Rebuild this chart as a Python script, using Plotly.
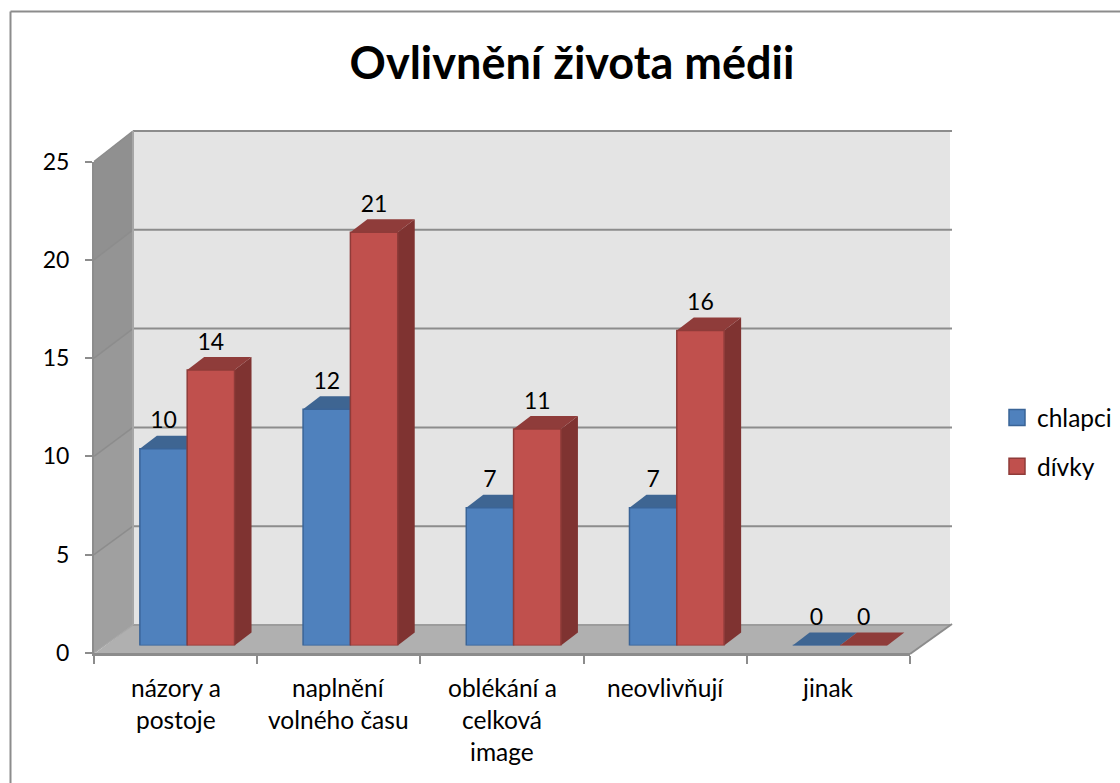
import plotly.graph_objects as go

title = "Ovlivnění života médii"
categories = ["názory a<br>postoje", "naplnění<br>volného času", "oblékání a<br>celková<br>image", "neovlivňují", "jinak"]
chlapci = [10, 12, 7, 7, 0]
divky = [14, 21, 11, 16, 0]
y_ticks = [0, 5, 10, 15, 20, 25]

W, H = 1120, 783
FONT = "Lato"
TXT = "#000000"
GRID = "#8C8C8C"
BLUE, BLUE_TOP, BLUE_SIDE, BLUE_LINE = "#4F81BD", "#3E6592", "#385D8A", "#3A6497"
RED, RED_TOP, RED_SIDE, RED_LINE = "#C0504D", "#8F3C3A", "#7F3331", "#8F3B39"

def fx(p): return p / W
def fy(p): return 1 - p / H

# plot geometry in pixels
FRONT_L, FRONT_R, FRONT_0, FRONT_25 = 94, 910, 653, 161.5
BACK_L, BACK_R, BACK_0, BACK_25 = 133, 950, 625, 131
BAR_L, BAR_R, BAR_0, BAR_25 = 105.6, 921.6, 645.5, 153.5
BAR_GAP = 0.42
BW = (1 - BAR_GAP) / 2
DX = 17 / ((BAR_R - BAR_L) / 5)
DY = 13 / ((BAR_0 - BAR_25) / 25)
LABEL_OFF = 26 / ((BAR_0 - BAR_25) / 25)

def poly(pts, color, xref="paper", yref="paper", lw=0):
    path = "M" + " L".join(f"{x},{y}" for x, y in pts) + " Z"
    return dict(type="path", path=path, xref=xref, yref=yref, fillcolor=color,
                line=dict(color=color, width=lw), layer="below")

def px_poly(pts, color, lw=0):
    return poly([(fx(x), fy(y)) for x, y in pts], color, lw=lw)

def line(x0, y0, x1, y1, color=GRID, width=2):
    return dict(type="line", xref="paper", yref="paper", x0=fx(x0), y0=fy(y0), x1=fx(x1), y1=fy(y1),
                line=dict(color=color, width=width), layer="below")

shapes = []
# chart frame
shapes += [line(10.5, 11.5, 1120, 11.5), line(10.5, 11.5, 10.5, 783)]
# back wall, floor
shapes.append(px_poly([(BACK_L, BACK_25), (BACK_R, BACK_25), (BACK_R, BACK_0), (BACK_L, BACK_0)], "#E4E4E4"))
shapes.append(px_poly([(FRONT_L, FRONT_0 + 1), (FRONT_R, FRONT_0 + 1), (BACK_R, BACK_0), (BACK_L, BACK_0)], "#B0B0B0"))
# side wall, banded from lighter (bottom) to darker (top)
side_cols = ["#A0A0A0", "#9C9C9C", "#989898", "#949494", "#909090"]
for i in range(len(y_ticks) - 1):
    a, b = y_ticks[i] / 25, y_ticks[i + 1] / 25
    f0, f1 = FRONT_0 + (FRONT_25 - FRONT_0) * a, FRONT_0 + (FRONT_25 - FRONT_0) * b
    b0, b1 = BACK_0 + (BACK_25 - BACK_0) * a, BACK_0 + (BACK_25 - BACK_0) * b
    shapes.append(px_poly([(FRONT_L, f0), (FRONT_L, f1), (BACK_L, b1), (BACK_L, b0)], side_cols[i]))
# grid lines
for v in y_ticks:
    a = v / 25
    f = FRONT_0 + (FRONT_25 - FRONT_0) * a
    b = BACK_0 + (BACK_25 - BACK_0) * a
    shapes.append(line(FRONT_L, f, BACK_L, b, "#A6A6A6" if v == 0 else GRID, 1.5))
    if v > 0:
        shapes.append(line(BACK_L, b, BACK_R + 2, b))
shapes.append(line(BACK_L, BACK_0, BACK_R, BACK_0, "#9C9C9C", 2))
shapes.append(line(BACK_L, BACK_25, BACK_L, BACK_0, "#A6A6A6", 2))
shapes.append(line(FRONT_R, FRONT_0 + 1, BACK_R + 2, BACK_0 - 1, "#8C8C8C", 2))

# depth faces of the columns, from the values
for values, off, top, side in [(chlapci, -BW, BLUE_TOP, BLUE_SIDE), (divky, 0, RED_TOP, RED_SIDE)]:
    for i, v in enumerate(values):
        xl, xr = i + off, i + off + BW
        if v > 0:
            shapes.append(poly([(xr, 0), (xr, v), (xr + DX, v + DY), (xr + DX, DY)], side, "x2", "y2"))
        shapes.append(poly([(xl, v), (xr, v), (xr + DX, v + DY), (xl + DX, v + DY)], top, "x2", "y2"))

fig = go.Figure()
xs = list(range(len(categories)))
fig.add_trace(go.Bar(x=xs, y=chlapci, name="chlapci", xaxis="x2", yaxis="y2", showlegend=False,
                     marker=dict(color=BLUE, line=dict(color=BLUE_LINE, width=1.5))))
fig.add_trace(go.Bar(x=xs, y=divky, name="dívky", xaxis="x2", yaxis="y2", showlegend=False,
                     marker=dict(color=RED, line=dict(color=RED_LINE, width=1.5))))
for values, off in [(chlapci, -BW / 2), (divky, BW / 2)]:
    fig.add_trace(go.Scatter(x=[i + off for i in xs], y=[v + LABEL_OFF for v in values],
                             text=[str(v) for v in values], mode="text", xaxis="x2", yaxis="y2",
                             textposition="middle center", showlegend=False, hoverinfo="skip",
                             textfont=dict(family=FONT, size=23, color=TXT)))
# legend keys
for name, col, edge, grp in [("chlapci", BLUE, BLUE_LINE, "a"), ("dívky", RED, RED_LINE, "b")]:
    fig.add_trace(go.Scatter(x=[None], y=[None], name=name, mode="markers", legendgroup=grp,
                             marker=dict(symbol="square", size=16, color=col, line=dict(color=edge, width=1.5))))

# category labels, one annotation per line
annotations = []
for i, cat in enumerate(categories):
    for j, ln in enumerate(cat.split("<br>")):
        annotations.append(dict(text=ln, x=i, xref="x", y=fy(687 + 32 * j), yref="paper", yanchor="middle",
                                xanchor="center", showarrow=False, font=dict(family=FONT, size=24.5, color=TXT)))

fig.update_layout(
    width=W, height=H, margin=dict(l=0, r=0, t=0, b=0, autoexpand=False), autosize=False,
    paper_bgcolor="white", plot_bgcolor="rgba(0,0,0,0)",
    font=dict(family=FONT, size=23, color=TXT),
    title=dict(text=f"<b>{title}</b>", x=fx(572), xanchor="center", y=fy(63), yanchor="middle",
               font=dict(family=FONT, size=45, color=TXT)),
    barmode="group", bargap=BAR_GAP, bargroupgap=0,
    shapes=shapes, annotations=annotations,
    xaxis=dict(domain=[fx(FRONT_L), fx(FRONT_R)], range=[-0.5, 4.5], tickvals=[i - 0.5 for i in range(6)],
               ticktext=[""] * 6, ticks="outside", ticklen=8, tickwidth=2, tickcolor=GRID, showgrid=False,
               zeroline=False, showline=True, linecolor=GRID, linewidth=3, anchor="y"),
    yaxis=dict(domain=[fy(FRONT_0), fy(FRONT_25)], range=[0, 25], tickvals=y_ticks, ticks="outside", ticklen=7,
               tickwidth=2, tickcolor=GRID, showgrid=False, zeroline=False, showline=True, linecolor=GRID,
               linewidth=2, ticklabelstandoff=11, tickfont=dict(family=FONT, size=23, color=TXT), anchor="x"),
    xaxis2=dict(domain=[fx(BAR_L), fx(BAR_R)], range=[-0.5, 4.5], visible=False, anchor="y2"),
    yaxis2=dict(domain=[fy(BAR_0), fy(BAR_25)], range=[0, 25], visible=False, anchor="x2"),
    legend=dict(x=fx(997), xanchor="left", y=fy(442), yanchor="middle", tracegroupgap=14,
                bgcolor="rgba(0,0,0,0)", font=dict(family=FONT, size=24.5, color=TXT), itemwidth=30),
)
fig.write_html("out.html", config=dict(displayModeBar=False),
               post_script="document.body.style.margin='0';document.body.style.overflow='hidden';")
